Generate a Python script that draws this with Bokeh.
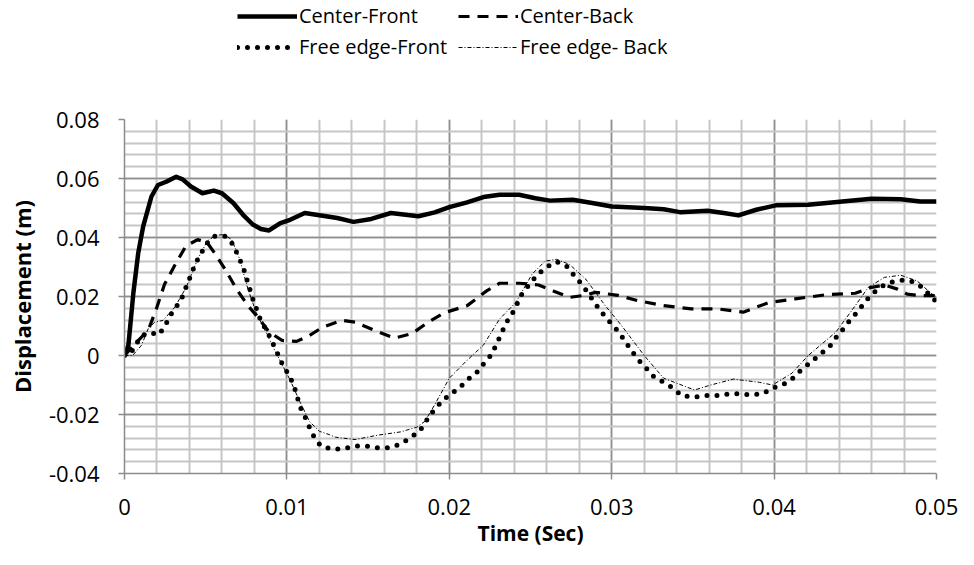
from bokeh.plotting import figure
from bokeh.models import (ColumnDataSource, FixedTicker, Legend, LegendItem)
from bokeh.layouts import column
from bokeh.embed import file_html
from bokeh.resources import INLINE

# ---------------- data ----------------
cf_t = [0, .00024, .00055, .00085, .00115, .00166, .00206, .00257, .00318, .00358,
        .00409, .0048, .0055, .006, .0067, .0073, .0079, .0084, .0089, .0096,
        .0102, .0111, .0122, .0131, .0141, .0152, .0164, .0181, .0191, .02,
        .0211, .0221, .0231, .0243, .0253, .0262, .0276, .0288, .03, .032,
        .0332, .0342, .0359, .0369, .0378, .0389, .0401, .0421, .0442, .046,
        .0478, .049, .05]
cf_v = [0, .0035, .0214, .0349, .0438, .0539, .0578, .0589, .0606, .0597,
        .0573, .055, .0559, .055, .0517, .0477, .0444, .0429, .0424, .0449,
        .046, .0483, .0474, .0466, .0453, .0463, .0483, .0472, .0485, .0503,
        .0519, .0537, .0545, .0545, .0533, .0525, .0528, .0517, .0505, .05,
        .0496, .0486, .0491, .0483, .0475, .0494, .0509, .0511, .0522, .0531,
        .053, .0522, .0522]

cb_t = [0, .00085, .00146, .00196, .00247, .00308, .00378, .0045, .0051, .0056,
        .0062, .0069, .0076, .0083, .0089, .0097, .0106, .0114, .0122, .0134,
        .0142, .0154, .0166, .0177, .0187, .0197, .0211, .0223, .0231, .0243,
        .0255, .0264, .0274, .0282, .029, .0304, .0316, .0332, .0349, .0365,
        .0381, .0397, .0413, .0432, .045, .046, .0468, .0476, .0482, .049,
        .05]
cb_v = [0, .0051, .0085, .0158, .0242, .0304, .0371, .0393, .0382, .0343,
        .0292, .0225, .0169, .0124, .008, .0051, .0048, .0068, .0096, .0119,
        .0113, .0085, .0059, .0074, .0113, .0145, .0169, .0219, .0245, .0245,
        .0239, .0219, .0197, .0203, .0214, .0204, .0186, .0169, .0158, .0158,
        .0147, .018, .0192, .0206, .0211, .0231, .0239, .0225, .0208, .0203,
        .0203]

ff_t = [0, .0002, .0005, .0009, .0013, .0017, .0021, .0025, .0028, .0032,
        .00358, .00382, .00409, .00435, .0047, .0051, .0055, .0062, .0067, .007,
        .0073, .0075, .0079, .0084, .0088, .0094, .0097, .0101, .0104, .0106,
        .0108, .0111, .0114, .0117, .0121, .0128, .0135, .0142, .0149, .0156,
        .0163, .017, .0176, .0182, .0186, .019, .0195, .02, .0206, .0211,
        .0217, .0221, .0226, .0229, .0232, .0235, .0239, .0242, .0245, .025,
        .0254, .026, .0266, .0273, .0277, .0282, .029, .0294, .0299, .0304,
        .0308, .0312, .0316, .0321, .0326, .0332, .0338, .0343, .0351, .0358,
        .0365, .0372, .0379, .0386, .0393, .0399, .0406, .0412, .0417, .0423,
        .0428, .0434, .0438, .0443, .0447, .0452, .0456, .0461, .0467, .0473,
        .048, .0487, .0493, .0497, .05]
ff_v = [0, 0, .0018, .0055, .0075, .0076, .007, .010, .0135, .0166,
        .0201, .0236, .0272, .031, .0345, .0382, .0404, .0404, .0376, .0337,
        .0301, .0264, .0192, .0117, .008, .001, -.0027, -.0064, -.0097, -.0133,
        -.0173, -.0206, -.0245, -.0279, -.0307, -.0318, -.0316, -.0307, -.0307, -.0313,
        -.0313, -.03, -.0279, -.0254, -.022, -.0189, -.0158, -.0133, -.0111, -.0083,
        -.0057, -.0029, .0003, .0038, .0074, .011, .0145, .0178, .0212, .0245,
        .0273, .03, .0318, .03, .027, .0239, .0175, .0145, .0113, .0082,
        .0051, .0018, -.0012, -.0041, -.0072, -.0091, -.0111, -.0136, -.0141, -.0136,
        -.0136, -.013, -.013, -.0133, -.013, -.0111, -.0097, -.0075, -.0047, -.0021,
        .0003, .0029, .006, .0093, .0122, .0152, .0183, .0212, .0236, .025,
        .0256, .0248, .0223, .0194, .0185]

fb_t = [0, .0005, .00105, .00146, .00186, .00237, .0031, .0038, .0045, .0051,
        .0056, .0061, .0066, .0071, .0076, .0081, .0087, .0093, .0102, .0108,
        .0114, .012, .0126, .013, .0142, .0156, .017, .018, .0185, .0191,
        .02, .0211, .0221, .0231, .0241, .0251, .0259, .0266, .0274, .0284,
        .0296, .0306, .032, .0332, .0351, .0361, .0375, .0391, .0399, .0411,
        .0421, .0438, .045, .0458, .0468, .0478, .0488, .0496, .05]
fb_v = [0, 0, .0035, .0091, .0113, .0119, .0164, .0231, .0326, .0388,
        .0407, .041, .0393, .0326, .0225, .0147, .008, .0012, -.0083, -.0157,
        -.0224, -.0257, -.0268, -.0277, -.0285, -.027, -.0259, -.0243, -.0223, -.0167,
        -.0077, -.0016, .0035, .0124, .018, .0276, .032, .0326, .0309, .0259,
        .0169, .0102, 0, -.0077, -.0117, -.01, -.008, -.0091, -.01, -.006,
        0, .0079, .0169, .0231, .0265, .0272, .0253, .0214, .0197]

series_names = ["Center-Front", "Center-Back", "Free edge-Front", "Free edge- Back"]

x_ticks = [0, 0.01, 0.02, 0.03, 0.04, 0.05]
x_tick_labels = ["0", "0.01", "0.02", "0.03", "0.04", "0.05"]
x_minor = [round(0.002 * i, 4) for i in range(26)]
y_ticks = [-0.04, -0.02, 0, 0.02, 0.04, 0.06, 0.08]
y_tick_labels = ["-0.04", "-0.02", "0", "0.02", "0.04", "0.06", "0.08"]
y_minor = [round(-0.04 + 0.004 * i, 4) for i in range(31)]

FONT = "Open Sans"
styles = [dict(line_color="black", line_width=4.5, line_join="round"),
          dict(line_color="black", line_width=3.2, line_dash="11 8"),
          dict(line_color="black", line_width=5, line_dash="0 10", line_cap="round"),
          dict(line_color="black", line_width=1, line_dash="4 2 1 2")]

sources = [ColumnDataSource(dict(t=cf_t, v=cf_v)),
           ColumnDataSource(dict(t=cb_t, v=cb_v)),
           ColumnDataSource(dict(t=ff_t, v=ff_v)),
           ColumnDataSource(dict(t=fb_t, v=fb_v))]

# ---------------- legend strip (top) ----------------
LEG_H = 90
pl = figure(width=958, height=LEG_H, output_backend="svg", toolbar_location=None,
            x_axis_type=None, y_axis_type=None, x_range=(1, 2), y_range=(1, 2),
            min_border=0)
pl.outline_line_color = None
pl.grid.visible = False
# same series, outside this strip's ranges: only their legend samples show
leg_r = [pl.line(x="t", y="v", source=s, **st) for s, st in zip(sources, styles)]
legend = Legend(items=[LegendItem(label=n, renderers=[r]) for n, r in zip(series_names, leg_r)],
                location=(113, 30), orientation="horizontal", ncols=2,
                glyph_width=60, glyph_height=20, label_height=20, label_width=155,
                label_standoff=2, spacing=4, padding=0, margin=0,
                border_line_color=None, background_fill_alpha=0,
                label_text_font=FONT, label_text_font_size="20px",
                label_text_color="black")
pl.add_layout(legend)

# ---------------- main chart ----------------
p = figure(width=958, height=549 - LEG_H, output_backend="svg", toolbar_location=None,
           x_range=(0, 0.05), y_range=(-0.04, 0.08),
           min_border_left=124, min_border_right=22, min_border_top=119 - LEG_H,
           min_border_bottom=73)
p.outline_line_color = None
p.background_fill_color = "white"

p.xaxis.ticker = FixedTicker(ticks=x_ticks, minor_ticks=x_minor)
p.yaxis.ticker = FixedTicker(ticks=y_ticks, minor_ticks=y_minor)
p.xaxis.major_label_overrides = dict(zip(x_ticks, x_tick_labels))
p.yaxis.major_label_overrides = dict(zip(y_ticks, y_tick_labels))
for ax in (p.xaxis[0], p.yaxis[0]):
    ax.axis_line_color = "#8c8c8c"
    ax.axis_line_width = 1.5
    ax.major_tick_line_color = "#8c8c8c"
    ax.major_tick_line_width = 1.5
    ax.major_tick_out = 6
    ax.major_tick_in = 0
    ax.minor_tick_line_color = None
    ax.major_label_text_font = FONT
    ax.major_label_text_font_size = "22px"
    ax.major_label_text_color = "black"
    ax.axis_label_text_font = FONT
    ax.axis_label_text_font_style = "bold"
    ax.axis_label_text_color = "black"
p.xaxis.axis_label = "Time (Sec)"
p.yaxis.axis_label = "Displacement (m)"
p.xaxis.axis_label_text_font_size = "21px"
p.yaxis.axis_label_text_font_size = "22px"
p.xaxis.major_label_standoff = 19
p.yaxis.major_label_standoff = 19
p.xaxis.axis_label_standoff = 1
p.yaxis.axis_label_standoff = 9

for g in (p.xgrid[0], p.ygrid[0]):
    g.grid_line_color = "#8f8f8f"
    g.grid_line_width = 1.5
    g.minor_grid_line_color = "#c6c6c6"
    g.minor_grid_line_width = 2

p.line(x="t", y="v", source=sources[0], **styles[0])
p.line(x="t", y="v", source=sources[1], **styles[1])
p.line(x="t", y="v", source=sources[3], **styles[3])
p.line(x="t", y="v", source=sources[2], **styles[2])

layout = column(pl, p, spacing=0)
open("out.html", "w").write(file_html(layout, INLINE))
